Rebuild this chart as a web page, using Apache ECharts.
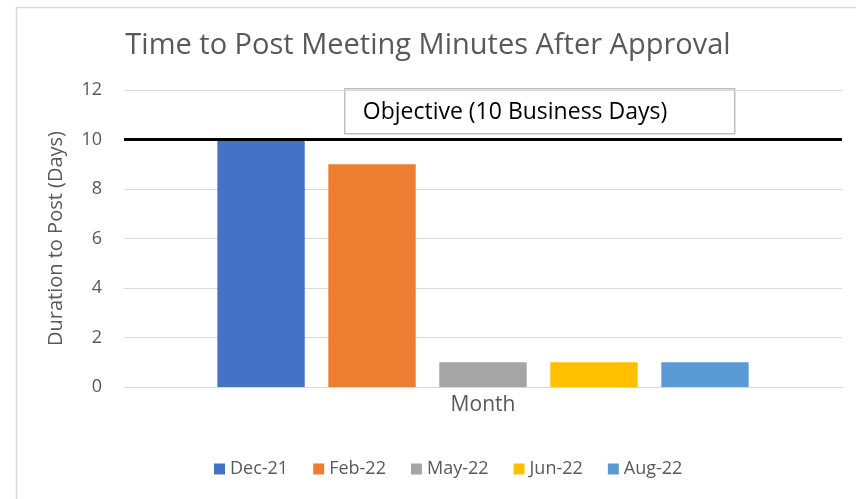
<!DOCTYPE html>
<html>
<head>
<meta charset="utf-8">
<script src="https://cdn.jsdelivr.net/npm/echarts@6/dist/echarts.min.js"></script>
<style>
  html, body { margin: 0; padding: 0; background: #fff; }
  #chart { width: 856px; height: 499px; }
</style>
</head>
<body>
<div id="chart"></div>
<script>
// data
var categories = ['Month']
var seriesNames = ['Dec-21', 'Feb-22', 'May-22', 'Jun-22', 'Aug-22']
var seriesValues = [10, 9, 1, 1, 1]
var seriesColors = ['#4472c4', '#ed7d31', '#a5a5a5', '#ffc000', '#5b9bd5']
var objective = 10
var yTicks = [0, 2, 4, 6, 8, 10, 12]

var FONT = '"Open Sans", "Noto Sans", sans-serif'
var chart = echarts.init(document.getElementById('chart'))

var series = seriesNames.map(function (name, i) {
  var s = {
    name: name,
    type: 'bar',
    data: [seriesValues[i]],
    itemStyle: { color: seriesColors[i] },
    barGap: '27%',
    barCategoryGap: '26%'
  }
  // 目标线
  if (i === 0) {
    s.markLine = {
      silent: true,
      symbol: 'none',
      label: { show: false },
      lineStyle: { color: '#000', width: 3, type: 'solid' },
      data: [{ yAxis: objective }]
    }
  }
  return s
})

chart.setOption({
  animation: false,
  title: {
    text: 'Time to Post Meeting Minutes After Approval',
    left: 'center',
    top: 26,
    textStyle: { color: '#595959', fontSize: 29, fontWeight: 'normal', fontFamily: FONT }
  },
  grid: { left: 124, right: 14, top: 90, bottom: 112 },
  legend: {
    top: 455,
    left: 209,
    itemWidth: 11,
    itemHeight: 11,
    itemGap: 25,
    icon: 'rect',
    textStyle: { color: '#595959', fontSize: 18, fontFamily: FONT }
  },
  xAxis: {
    type: 'category',
    data: categories,
    name: 'Month',
    nameLocation: 'middle',
    nameGap: 8,
    nameTextStyle: { color: '#595959', fontSize: 21, fontFamily: FONT },
    axisLine: { lineStyle: { color: '#d9d9d9', width: 1 } },
    axisTick: { show: false },
    axisLabel: { show: false }
  },
  yAxis: {
    type: 'value',
    min: yTicks[0],
    max: yTicks[yTicks.length - 1],
    interval: 2,
    name: 'Duration to Post (Days)',
    nameLocation: 'middle',
    nameGap: 58,
    nameTextStyle: { color: '#595959', fontSize: 20, fontFamily: FONT },
    axisLabel: { color: '#595959', fontSize: 18, fontFamily: FONT, margin: 22 },
    splitLine: { lineStyle: { color: '#d9d9d9', width: 1 } },
    axisLine: { show: false },
    axisTick: { show: false }
  },
  graphic: [
    {
      type: 'rect',
      left: 14, top: 5,
      shape: { width: 850, height: 493 },
      style: { fill: 'none', stroke: '#d9d9d9', lineWidth: 1.5 },
      silent: true
    },
    {
      type: 'group',
      left: 344, top: 88,
      children: [
        {
          type: 'rect',
          shape: { x: 0, y: 0, width: 390, height: 45 },
          style: { fill: '#fff', stroke: '#bfbfbf', lineWidth: 1.5 }
        },
        {
          type: 'text',
          x: 18, y: 24,
          style: {
            text: 'Objective (10 Business Days)',
            fill: '#000',
            fontSize: 23,
            fontFamily: FONT,
            verticalAlign: 'middle'
          }
        }
      ]
    }
  ],
  series: series
})
</script>
</body>
</html>
